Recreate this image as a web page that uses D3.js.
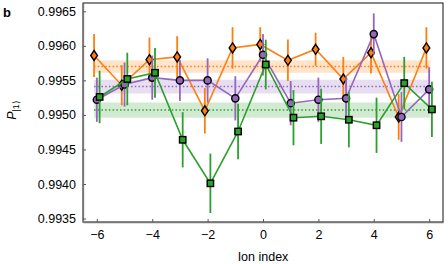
<!DOCTYPE html>
<html><head><meta charset="utf-8">
<script src="https://cdn.jsdelivr.net/npm/d3@7"></script>
<style>body{margin:0;background:#fff}svg{display:block;font-family:"Liberation Sans",Arial,sans-serif}</style>
</head><body><svg id="c" width="448" height="264"></svg>
<script>
const ions = [-6,-5,-4,-3,-2,-1,0,1,2,3,4,5,6];
const orangeVals = [0.99586,0.99543,0.99580,0.99584,0.99506,0.99597,0.99602,0.99579,0.99595,0.99552,0.99590,0.99497,0.99597];
const orangeErr  = [0.00031,0.00029,0.00032,0.00030,0.00033,0.00030,0.00025,0.00030,0.00024,0.00032,0.00030,0.00033,0.00030];
const purpleVals = [0.99522,0.99544,0.99554,0.99550,0.99550,0.99524,0.99587,0.99517,0.99522,0.99524,0.99617,0.99497,0.99537];
const purpleErr  = [0.00032,0.00032,0.00032,0.00030,0.00032,0.00032,0.00030,0.00032,0.00032,0.00032,0.00030,0.00036,0.00032];
const greenVals  = [0.99526,0.99552,0.99561,0.99464,0.99401,0.99476,0.99573,0.99496,0.99498,0.99493,0.99485,0.99546,0.99508];
const greenErr   = [0.00038,0.00038,0.00036,0.00040,0.00043,0.00040,0.00036,0.00040,0.00040,0.00040,0.00040,0.00038,0.00040];
const means      = [0.99570,0.99541,0.99507];
const meanErr    = [0.00009,0.00010,0.00011];
const xTicks = [-6,-4,-2,0,2,4,6];
const yTicks = [0.9935,0.9940,0.9945,0.9950,0.9955,0.9960,0.9965];

const colors = ["#ff7f0e","#9467bd","#2ca02c"];
const offsets = [-0.1,0,0.1];
const series = [
  {vals:orangeVals, err:orangeErr, marker:"diamond"},
  {vals:purpleVals, err:purpleErr, marker:"circle"},
  {vals:greenVals, err:greenErr, marker:"square"}
];

const svg = d3.select("#c");
const L=83,R=443,T=3,B=222;
const x = d3.scaleLinear().domain([-6.5,6.5]).range([L,R]);
const y = d3.scaleLinear().domain([0.99345,0.99662]).range([B,T]);

// bands and mean lines
means.forEach((m,i)=>{
  svg.append("rect").attr("x",x(-6.1)).attr("width",x(6.05)-x(-6.1))
    .attr("y",y(m+meanErr[i])).attr("height",y(m-meanErr[i])-y(m+meanErr[i]))
    .attr("fill",colors[i]).attr("opacity",0.22);
});
means.forEach((m,i)=>{
  svg.append("line").attr("x1",x(-6.1)).attr("x2",x(6.05)).attr("y1",y(m)).attr("y2",y(m))
    .attr("stroke",colors[i]).attr("stroke-width",1.5).attr("stroke-dasharray","1.5,2.2");
});

series.forEach((s,i)=>{
  const g = svg.append("g");
  const xs = d=>x(d+offsets[i]);
  g.selectAll("line.e").data(ions).join("line")
    .attr("x1",(d)=>xs(d)).attr("x2",(d)=>xs(d))
    .attr("y1",(d,j)=>y(s.vals[j]-s.err[j])).attr("y2",(d,j)=>y(s.vals[j]+s.err[j]))
    .attr("stroke",colors[i]).attr("stroke-width",1.8);
  g.append("path").datum(ions)
    .attr("d",d3.line().x(d=>xs(d)).y((d,j)=>y(s.vals[j])))
    .attr("fill","none").attr("stroke",colors[i]).attr("stroke-width",1.6);
  ions.forEach((d,j)=>{
    const cx=xs(d), cy=y(s.vals[j]);
    if(s.marker==="circle"){
      g.append("circle").attr("cx",cx).attr("cy",cy).attr("r",3.6)
        .attr("fill",colors[i]).attr("stroke","#000").attr("stroke-width",1.4);
    } else if(s.marker==="square"){
      g.append("rect").attr("x",cx-3.2).attr("y",cy-3.2).attr("width",6.4).attr("height",6.4)
        .attr("fill",colors[i]).attr("stroke","#000").attr("stroke-width",1.4);
    } else {
      g.append("path").attr("d",`M${cx},${cy-5}L${cx+3.4},${cy}L${cx},${cy+5}L${cx-3.4},${cy}Z`)
        .attr("fill",colors[i]).attr("stroke","#000").attr("stroke-width",1.4);
    }
  });
});

// frame
svg.append("rect").attr("x",L).attr("y",T).attr("width",R-L).attr("height",B-T)
  .attr("fill","none").attr("stroke","#111").attr("stroke-width",1);

const xa = svg.append("g").attr("transform",`translate(0,${B})`)
  .call(d3.axisBottom(x).tickValues(xTicks).tickSizeInner(-3).tickSizeOuter(0).tickPadding(8)
    .tickFormat(d=>d<0?"\u2212"+Math.abs(d):d));
const ya = svg.append("g").attr("transform",`translate(${L},0)`)
  .call(d3.axisLeft(y).tickValues(yTicks).tickSizeInner(-3).tickSizeOuter(0).tickPadding(7)
    .tickFormat(d3.format(".4f")));
[xa,ya].forEach(a=>{
  a.select(".domain").attr("stroke","#777").attr("stroke-width",1.3);
  a.selectAll(".tick line").attr("stroke","#555");
  a.selectAll("text").attr("font-size",12.5).attr("fill","#000").attr("font-family","Liberation Sans, Arial, sans-serif");
});

svg.append("text").attr("x",(L+R)/2).attr("y",261).attr("text-anchor","middle")
  .attr("font-size",12.5).text("Ion index");

const yl = svg.append("text").attr("transform","translate(16,110) rotate(-90)")
  .attr("text-anchor","middle").attr("font-size",12.5);
yl.append("tspan").attr("font-style","italic").text("P");
yl.append("tspan").attr("font-size",9).attr("dy",3).text("|1\u27E9");

svg.append("text").attr("x",3).attr("y",17).attr("font-size",13).attr("font-weight","bold").text("b");
</script></body></html>
